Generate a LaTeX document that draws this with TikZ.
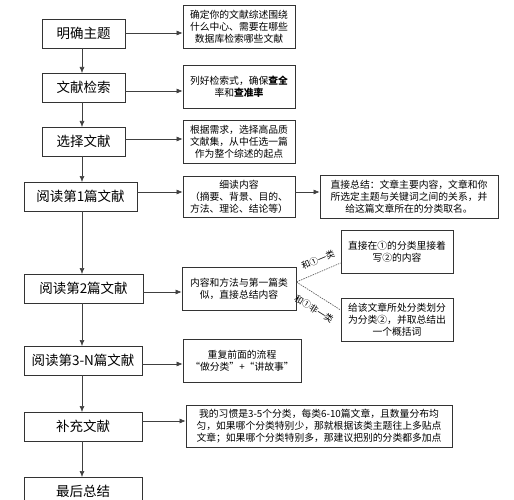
\documentclass[tikz,border=0pt]{standalone}
\usepackage{fontspec}
\setmainfont{Noto Sans CJK SC}
\usetikzlibrary{arrows.meta,calc}
\begin{document}
\begin{tikzpicture}[x=1pt,y=-1pt,
  lbox/.style={draw=black!80,line width=0.8pt,inner sep=0pt,font=\fontsize{13.5}{16}\selectfont},
  rbox/.style={draw=black!80,line width=0.8pt,inner sep=0pt,align=center,font=\fontsize{9.8}{12}\selectfont},
  arr/.style={draw=black!75,line width=0.6pt,-{Latex[length=6pt,width=5pt]}},
  dline/.style={draw=black!70,line width=0.6pt,dash pattern=on 1.5pt off 1pt},
  lab/.style={font=\fontsize{8.8}{10}\selectfont,inner sep=0.5pt}]
\useasboundingbox (0,0) rectangle (514,500);
\clip (0,0) rectangle (514,500);
% left column
\node[lbox,minimum width=83pt,minimum height=29pt] (L1) at (83.5,33.5) {明确主题};
\node[lbox,minimum width=83pt,minimum height=29pt] (L2) at (83.5,87.5) {文献检索};
\node[lbox,minimum width=83pt,minimum height=29pt] (L3) at (83.5,141.5) {选择文献};
\node[lbox,minimum width=113pt,minimum height=29pt] (L4) at (80.5,196.5) {阅读第1篇文献};
\node[lbox,minimum width=119pt,minimum height=29pt] (L5) at (83.5,288.5) {阅读第2篇文献};
\node[lbox,minimum width=118pt,minimum height=29pt] (L6) at (83,360.5) {阅读第3-N篇文献};
\node[lbox,minimum width=118pt,minimum height=29pt] (L7) at (83,426.5) {补充文献};
\node[lbox,minimum width=118pt,minimum height=29pt] (L8) at (83,491.5) {最后总结};
% right boxes
\node[rbox,minimum width=112pt,minimum height=43pt] (R1) at (239,26.5) {确定你的文献综述围绕\\什么中心、需要在哪些\\数据库检索哪些文献};
\node[rbox,minimum width=112pt,minimum height=43pt] (R2) at (239,86.5) {列好检索式，确保\textbf{查全}\\率和\textbf{查准率}};
\node[rbox,minimum width=112pt,minimum height=43pt] (R3) at (239,141.5) {根据需求，选择高品质\\文献集，从中任选一篇\\作为整个综述的起点};
\node[rbox,minimum width=112pt,minimum height=41pt] (R4) at (239,196.5) {细读内容\\（摘要、背景、目的、\\方法、理论、结论等）};
\node[rbox,minimum width=178pt,minimum height=43pt] (R5) at (409,196.5) {直接总结：文章主要内容，文章和你\\所选定主题与关键词之间的关系，并\\给这篇文章所在的分类取名。};
\node[rbox,minimum width=114pt,minimum height=43pt] (R6) at (239,288.5) {内容和方法与第一篇类\\似，直接总结内容};
\node[rbox,minimum width=112pt,minimum height=43pt] (R7) at (397,251.5) {直接在①的分类里接着\\写②的内容};
\node[rbox,minimum width=112pt,minimum height=43pt] (R8) at (397,319.5) {给该文章所处分类划分\\为分类②，并取总结出\\一个概括词};
\node[rbox,minimum width=118pt,minimum height=43pt] (R9) at (242,360.5) {重复前面的流程\\“做分类”+“讲故事”};
\node[rbox,minimum width=266pt,minimum height=42pt] (R10) at (319,426) {我的习惯是3-5个分类，每类6-10篇文章，且数量分布均\\匀，如果哪个分类特别少，那就根据该类主题往上多贴点\\文章；如果哪个分类特别多，那建议把别的分类都多加点};
% vertical arrows
\draw[arr] (82,48) -- (82,73);
\draw[arr] (82,102) -- (82,127);
\draw[arr] (82,156) -- (82,182);
\draw[arr] (82,211) -- (82,274);
\draw[arr] (82,303) -- (82,346);
\draw[arr] (82,375) -- (82,412);
\draw[arr] (82,441) -- (82,477);
% horizontal arrows
\draw[arr] (L1.east |- 0,33) -- (R1.west |- 0,33);
\draw[arr] (L2.east |- 0,91) -- (R2.west |- 0,91);
\draw[arr] (L3.east |- 0,139) -- (R3.west |- 0,139);
\draw[arr] (L4.east |- 0,192) -- (R4.west |- 0,192);
\draw[arr] (R4.east |- 0,192) -- (R5.west |- 0,192);
\draw[arr] (L5.east |- 0,292) -- (R6.west |- 0,292);
\draw[arr] (L6.east |- 0,364) -- (R9.west |- 0,364);
\draw[arr] (L7.east |- 0,421) -- (R10.west |- 0,421);
% dashed branches
\coordinate (sp) at (R6.east |- 0,282);
\draw[dline] (sp) -- (R7.west |- 0,263);
\draw[dline] (sp) -- (R8.west |- 0,310);
\node[lab,rotate=23] (T1) at (318,260) {和①一类};
\node[lab,rotate=-32] (T2) at (314,309) {和①非一类};
\end{tikzpicture}
\end{document}
